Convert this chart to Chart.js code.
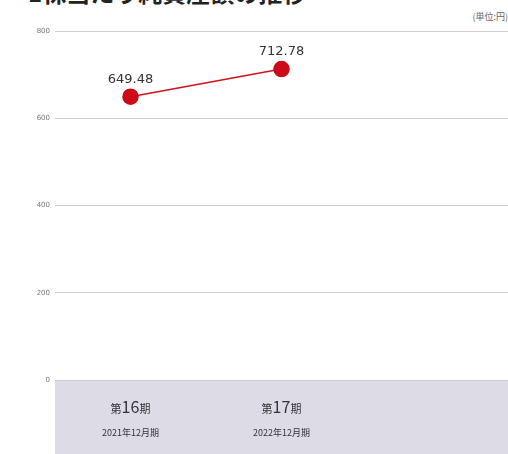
<!DOCTYPE html>
<html lang="ja">
<head>
<meta charset="UTF-8">
<title>1株当たり純資産額の推移</title>
<script src="https://cdn.jsdelivr.net/npm/chart.js@4.4.2/dist/chart.umd.min.js"></script>
<style>
  body { margin: 0; padding: 0; background: #fff; font-family: 'Noto Sans CJK JP', sans-serif; overflow: hidden; }
  .wrap { position: relative; width: 508px; height: 454px; }
  .title { position: absolute; left: 28px; top: -26px; font-size: 24px; font-weight: bold; color: #222; white-space: nowrap; }
  .unit { position: absolute; right: 0px; top: 10px; font-size: 9px; color: #666; }
  canvas { position: absolute; left: 0; top: 0; }
</style>
</head>
<body>
<div class="wrap">
  <div class="title">1株当たり純資産額の推移</div>
  <div class="unit">(単位:円)</div>
  <canvas id="bpsChart" width="508" height="454"></canvas>
</div>
<script>
// data
const periods = ['16', '17', ''];
const fiscalYears = ['2021年12月期', '2022年12月期', ''];
const bpsValues = [649.48, 712.78, null];
const yTicks = [0, 200, 400, 600, 800];

// gray band under the x axis + category labels + value labels
const bandAndLabels = {
  id: 'bandAndLabels',
  beforeDraw(chart) {
    const { ctx, chartArea } = chart;
    ctx.save();
    ctx.fillStyle = '#dddbe6';
    ctx.fillRect(chartArea.left, chartArea.bottom, chart.width - chartArea.left, chart.height - chartArea.bottom);
    ctx.restore();
  },
  afterDraw(chart) {
    const { ctx } = chart;
    const x = chart.scales.x;
    const y = chart.scales.y;
    ctx.save();
    ctx.fillStyle = '#333';
    ctx.textBaseline = 'alphabetic';
    periods.forEach((p, i) => {
      if (!p) return;
      const cx = x.getPixelForValue(i);
      const small = '11px "Noto Sans CJK JP"';
      const big = '16px "Noto Sans CJK JP"';
      ctx.font = small; const w1 = ctx.measureText('第').width;
      ctx.font = big; const w2 = ctx.measureText(p).width;
      ctx.font = small; const w3 = ctx.measureText('期').width;
      let sx = cx - (w1 + w2 + w3) / 2;
      ctx.textAlign = 'left';
      ctx.font = small; ctx.fillText('第', sx, 413);
      ctx.font = big; ctx.fillText(p, sx + w1, 413);
      ctx.font = small; ctx.fillText('期', sx + w1 + w2, 413);
      ctx.textAlign = 'center';
      ctx.font = '9px "Noto Sans CJK JP"';
      ctx.fillText(fiscalYears[i], cx, 436);
    });
    ctx.font = '13px "DejaVu Sans"';
    ctx.textAlign = 'center';
    bpsValues.forEach((v, i) => {
      if (v === null) return;
      ctx.fillText(v.toFixed(2), x.getPixelForValue(i), y.getPixelForValue(v) - 14);
    });
    ctx.restore();
  }
};

new Chart(document.getElementById('bpsChart'), {
  type: 'line',
  data: {
    labels: periods,
    datasets: [{
      data: bpsValues,
      borderColor: '#d0121b',
      borderWidth: 1.5,
      pointBackgroundColor: '#cc0a18',
      pointBorderColor: '#cc0a18',
      pointRadius: 7.5,
      pointHoverRadius: 7.5,
      spanGaps: false
    }]
  },
  options: {
    responsive: false,
    animation: false,
    layout: { autoPadding: false, padding: { top: 31, right: 0, left: 0, bottom: 0 } },
    plugins: { legend: { display: false }, tooltip: { enabled: false } },
    scales: {
      x: {
        offset: true,
        grid: { display: false },
        border: { display: false },
        ticks: { display: false },
        afterFit(scale) { scale.height = 74; }
      },
      y: {
        min: 0,
        max: 800,
        afterBuildTicks(scale) { scale.ticks = yTicks.map(v => ({ value: v })); },
        grid: { color: '#cfcfcf', lineWidth: 1, drawTicks: false },
        border: { display: false },
        ticks: { color: '#777', font: { size: 7, family: 'DejaVu Sans' }, padding: 5 },
        afterFit(scale) { scale.width = 55; }
      }
    }
  },
  plugins: [bandAndLabels]
});
</script>
</body>
</html>
